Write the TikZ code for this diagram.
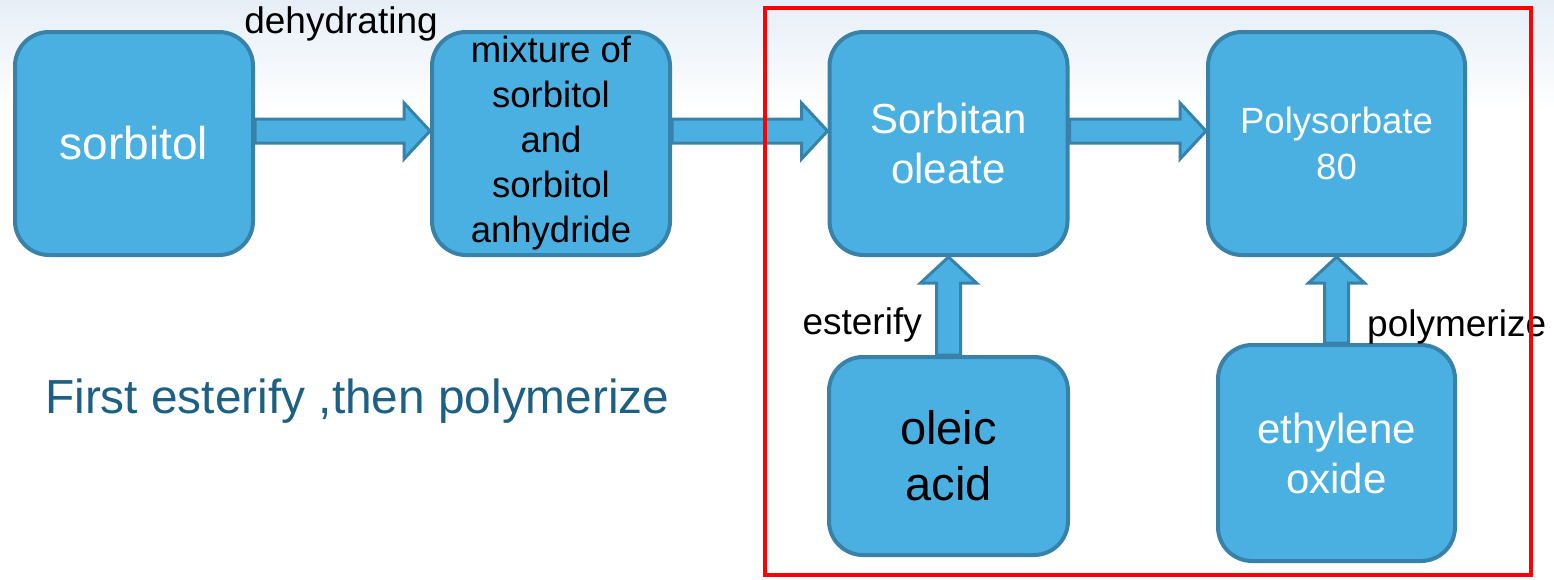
\documentclass[tikz,border=0pt]{standalone}
\usepackage{fontspec}
\setmainfont{Liberation Sans}
\usetikzlibrary{calc}

\definecolor{boxblue}{RGB}{74,176,226}
\definecolor{boxedge}{RGB}{56,130,170}
\definecolor{noteblue}{RGB}{28,96,134}
\definecolor{topgray}{RGB}{230,238,247}

\begin{document}
\begin{tikzpicture}[x=1pt,y=-1pt,
    stage/.style={draw=boxedge, fill=boxblue, line width=4pt, rounded corners=34pt,
        minimum width=238pt, minimum height=223pt, align=center, inner sep=0pt},
    fatarrow/.style={draw=boxedge, fill=boxblue, line width=3pt, line join=miter,
        to path={
            ($(\tikztotarget)!26pt!(\tikztostart)$) coordinate (fa-h)
            ($(\tikztostart)!12pt!90:(\tikztotarget)$)
            -- ($(fa-h)!12pt!90:(\tikztotarget)$) -- ($(fa-h)!28pt!90:(\tikztotarget)$)
            -- (\tikztotarget)
            -- ($(fa-h)!28pt!-90:(\tikztotarget)$) -- ($(fa-h)!12pt!-90:(\tikztotarget)$)
            -- ($(\tikztostart)!12pt!-90:(\tikztotarget)$) -- cycle}},
    steplabel/.style={font=\fontsize{37}{44}\selectfont, inner sep=0pt}]

% background
\fill[white] (0,0) rectangle (1554,579);
\shade[top color=topgray, bottom color=white] (0,0) rectangle (1554,110);
\useasboundingbox (0,0) rectangle (1554,579);

% boxes
\node[stage, text=white, font=\fontsize{46}{52}\selectfont] (sorb) at (134,143.5) {sorbitol};
\node[stage, font=\fontsize{36.5}{45}\selectfont] (mix) at (551,143.5)
    {mixture of\\sorbitol\\and\\sorbitol\\anhydride};
\node[stage, text=white, font=\fontsize{42}{50}\selectfont] (oleate) at (948.5,143.5)
    {Sorbitan\\oleate};
\node[stage, text=white, font=\fontsize{36.5}{46}\selectfont, minimum width=257pt] (poly)
    at (1336.5,143.5) {Polysorbate\\80};
\node[stage, font=\fontsize{47}{56}\selectfont, minimum width=239pt, minimum height=198pt]
    (acid) at (948.5,456) {oleic\\acid};
\node[stage, text=white, font=\fontsize{42}{50}\selectfont, minimum width=237pt,
    minimum height=216pt] (oxide) at (1336.5,453) {ethylene\\oxide};

% arrows
\draw[fatarrow] ([yshift=12.5pt]sorb.east) to ([yshift=12.5pt]mix.west);
\draw[fatarrow] ([yshift=12.5pt]mix.east) to ([yshift=12.5pt]oleate.west);
\draw[fatarrow] ([yshift=12.5pt]oleate.east) to ([yshift=12.5pt]poly.west);
\draw[fatarrow] (acid.north) to (oleate.south);
\draw[fatarrow] (oxide.north) to (poly.south);

% labels
\node[steplabel, anchor=base] (dehyd) at (341,33) {dehydrating};
\node[steplabel, anchor=base east] (ester) at (922,334) {esterify};
\node[steplabel, anchor=base west] (polym) at (1367,336) {polymerize};
\node[text=noteblue, font=\fontsize{47.8}{54}\selectfont, anchor=base west, inner sep=0pt]
    (note) at (45,413) {First esterify ,then polymerize};

% reaction frame
\draw[red, line width=4pt] (765,8) rectangle (1531,575);

\end{tikzpicture}
\end{document}
